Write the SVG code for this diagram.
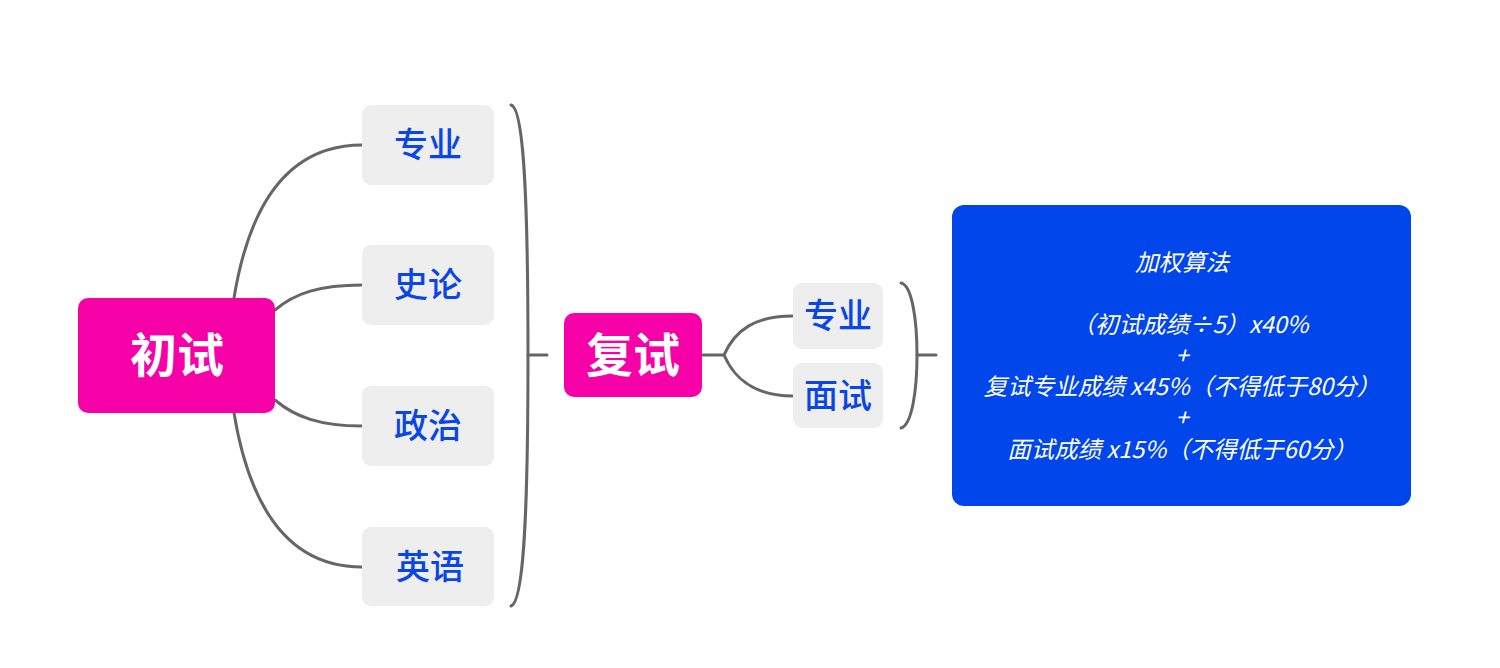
<svg xmlns="http://www.w3.org/2000/svg" width="1500" height="668" viewBox="0 0 1500 668">
<style>
.main{fill:#F600A8}
.mt{fill:#fff;font-family:"Noto Sans CJK SC",sans-serif;font-weight:bold;font-size:47px;text-anchor:middle}
.sub{fill:#EEEEEE}
.st{fill:#0A45E6;font-family:"Noto Sans CJK SC",sans-serif;font-weight:500;font-size:34px;text-anchor:middle}
.ln{fill:none;stroke:#666;stroke-width:3;stroke-linecap:round}
.bt{fill:#fff;font-family:"Noto Sans CJK SC",sans-serif;font-style:italic;font-size:23.5px;text-anchor:middle}
</style>
<rect width="1500" height="668" fill="#fff"/>
<g id="connectors">
<path class="ln" d="M234,298 C250,200 290,145 362,145"/>
<path class="ln" d="M275,310 C295,293 320,285 362,285"/>
<path class="ln" d="M275,400 C295,417 320,426 362,426"/>
<path class="ln" d="M234,413 C250,510 290,567 362,567"/>
<path class="ln" d="M511,105 C524,108 528,200 528,355 C528,510 524,602 511,606"/>
<path class="ln" d="M528,355 L547,355"/>
<path class="ln" d="M702,355 L724,355"/>
<path class="ln" d="M724,355 C735,330 755,316 793,316"/>
<path class="ln" d="M724,355 C735,380 755,396 793,396"/>
<path class="ln" d="M901,283 C912,285 917,320 917,355 C917,390 912,425 901,428"/>
<path class="ln" d="M917,355 L936,355"/>
</g>
<g id="chushi"><rect class="main" x="78" y="298" width="197" height="115" rx="10"/><text class="mt" x="177" y="372">初试</text></g>
<g id="zhuanye1"><rect class="sub" x="362" y="105" width="132" height="80" rx="9"/><text class="st" x="428" y="157">专业</text></g>
<g id="shilun"><rect class="sub" x="362" y="245" width="132" height="80" rx="9"/><text class="st" x="428" y="297">史论</text></g>
<g id="zhengzhi"><rect class="sub" x="362" y="386" width="132" height="80" rx="9"/><text class="st" x="428" y="438">政治</text></g>
<g id="yingyu"><rect class="sub" x="362" y="527" width="132" height="79" rx="9"/><text class="st" x="430" y="579">英语</text></g>
<g id="fushi"><rect class="main" x="564" y="313" width="138" height="84" rx="10"/><text class="mt" x="633" y="372">复试</text></g>
<g id="zhuanye2"><rect class="sub" x="793" y="283" width="90" height="66" rx="9"/><text class="st" x="838" y="328">专业</text></g>
<g id="mianshi"><rect class="sub" x="793" y="363" width="90" height="65" rx="9"/><text class="st" x="838" y="408">面试</text></g>
<g id="formula">
<rect x="952" y="205" width="459" height="301" rx="12" fill="#0046EA"/>
<text class="bt" x="1182" y="271">加权算法</text>
<text class="bt" x="1190" y="333">（初试成绩÷5）x40%</text>
<text class="bt" x="1182" y="364">+</text>
<text class="bt" x="1182" y="395">复试专业成绩 x45%（不得低于80分）</text>
<text class="bt" x="1182" y="426">+</text>
<text class="bt" x="1182" y="458">面试成绩 x15%（不得低于60分）</text>
</g>
</svg>
